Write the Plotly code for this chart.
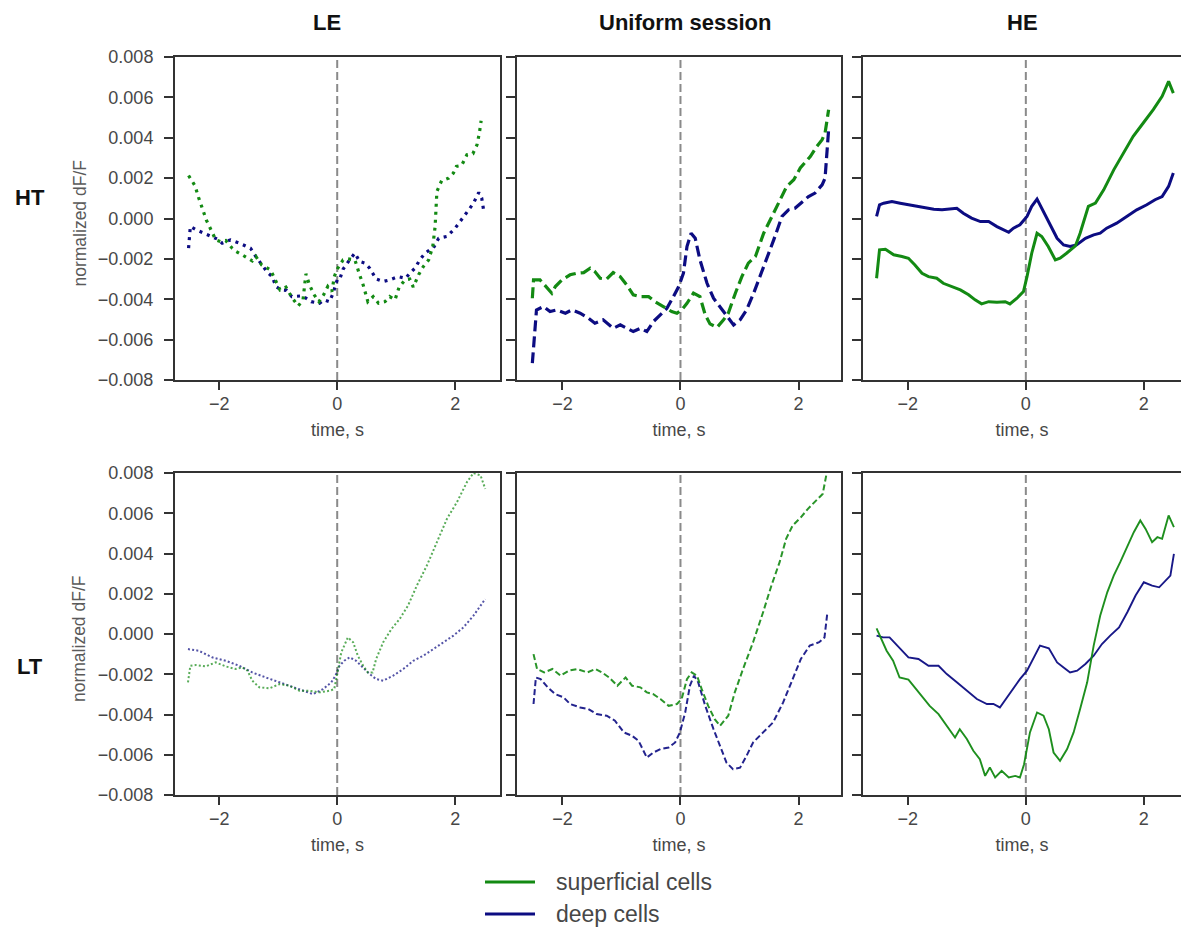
import plotly.graph_objects as go

# ---- data: (time in s, normalized dF/F) pairs per condition ----
# row HT, column LE (dotted)
LE_HT_SUP = [(-2.52, 0.00213), (-2.41, 0.00162), (-2.35, 0.00104), (-2.29, 0.00051), (-2.22, -0.00007),
             (-2.14, -0.00056), (-2.06, -0.00106), (-1.98, -0.00114), (-1.89, -0.00109), (-1.78, -0.00147),
             (-1.71, -0.00164), (-1.61, -0.00180), (-1.52, -0.00197), (-1.44, -0.00210), (-1.38, -0.00188),
             (-1.28, -0.00230), (-1.13, -0.00255), (-1.04, -0.00312), (-0.97, -0.00354), (-0.87, -0.00340),
             (-0.76, -0.00395), (-0.66, -0.00433), (-0.58, -0.00403), (-0.53, -0.00274), (-0.47, -0.00329),
             (-0.39, -0.00378), (-0.31, -0.00412), (-0.23, -0.00378), (-0.16, -0.00337), (-0.09, -0.00362),
             (-0.05, -0.00288), (0.01, -0.00246), (0.10, -0.00205), (0.18, -0.00200), (0.30, -0.00205),
             (0.38, -0.00279), (0.44, -0.00329), (0.52, -0.00412), (0.61, -0.00387), (0.70, -0.00420),
             (0.81, -0.00412), (0.89, -0.00387), (0.98, -0.00403), (1.05, -0.00340), (1.15, -0.00304),
             (1.23, -0.00300), (1.29, -0.00340), (1.38, -0.00279), (1.46, -0.00238), (1.55, -0.00205),
             (1.62, -0.00139), (1.66, -0.00040), (1.68, 0.00076), (1.69, 0.00134), (1.77, 0.00187),
             (1.89, 0.00200), (1.97, 0.00225), (2.02, 0.00258), (2.11, 0.00263), (2.20, 0.00316),
             (2.30, 0.00321), (2.37, 0.00365), (2.41, 0.00423), (2.44, 0.00484)]
LE_HT_DEEP = [(-2.52, -0.00147), (-2.51, -0.00093), (-2.49, -0.00040), (-2.39, -0.00056), (-2.26, -0.00073),
              (-2.12, -0.00089), (-2.03, -0.00102), (-1.95, -0.00122), (-1.81, -0.00106), (-1.66, -0.00122),
              (-1.55, -0.00136), (-1.47, -0.00147), (-1.38, -0.00188), (-1.27, -0.00230), (-1.18, -0.00268),
              (-1.10, -0.00288), (-1.04, -0.00337), (-0.95, -0.00354), (-0.86, -0.00356), (-0.77, -0.00387),
              (-0.67, -0.00383), (-0.59, -0.00383), (-0.44, -0.00412), (-0.30, -0.00420), (-0.22, -0.00403),
              (-0.13, -0.00412), (-0.07, -0.00370), (0.00, -0.00304), (0.04, -0.00304), (0.10, -0.00251),
              (0.21, -0.00205), (0.30, -0.00172), (0.38, -0.00213), (0.47, -0.00221), (0.55, -0.00246),
              (0.66, -0.00300), (0.78, -0.00312), (0.89, -0.00304), (1.03, -0.00288), (1.16, -0.00296),
              (1.23, -0.00271), (1.32, -0.00246), (1.40, -0.00205), (1.49, -0.00172), (1.57, -0.00155),
              (1.63, -0.00147), (1.72, -0.00098), (1.86, -0.00089), (2.00, -0.00048), (2.11, -0.00007),
              (2.23, 0.00043), (2.31, 0.00076), (2.40, 0.00129), (2.45, 0.00101), (2.48, 0.00046)]

# row HT, column Uniform session (dashed)
UNI_HT_SUP = [(-2.51, -0.00395), (-2.49, -0.00304), (-2.38, -0.00304), (-2.27, -0.00340), (-2.18, -0.00370),
              (-2.12, -0.00337), (-2.01, -0.00304), (-1.87, -0.00279), (-1.76, -0.00271), (-1.64, -0.00268),
              (-1.53, -0.00246), (-1.45, -0.00263), (-1.36, -0.00296), (-1.25, -0.00300), (-1.14, -0.00268),
              (-1.02, -0.00288), (-0.91, -0.00329), (-0.80, -0.00378), (-0.68, -0.00387), (-0.54, -0.00387),
              (-0.43, -0.00412), (-0.29, -0.00436), (-0.15, -0.00461), (-0.06, -0.00469), (0.02, -0.00453),
              (0.11, -0.00420), (0.22, -0.00370), (0.33, -0.00387), (0.42, -0.00478), (0.50, -0.00522),
              (0.62, -0.00539), (0.73, -0.00502), (0.81, -0.00469), (0.93, -0.00370), (1.04, -0.00288),
              (1.15, -0.00221), (1.27, -0.00188), (1.41, -0.00073), (1.55, 0.00010), (1.69, 0.00093),
              (1.80, 0.00159), (1.92, 0.00192), (2.03, 0.00250), (2.20, 0.00307), (2.31, 0.00357),
              (2.40, 0.00390), (2.45, 0.00423), (2.51, 0.00539)]
UNI_HT_DEEP = [(-2.51, -0.00717), (-2.46, -0.00502), (-2.44, -0.00453), (-2.32, -0.00436), (-2.21, -0.00461),
               (-2.10, -0.00453), (-1.95, -0.00469), (-1.84, -0.00453), (-1.70, -0.00469), (-1.56, -0.00494),
               (-1.45, -0.00519), (-1.31, -0.00502), (-1.14, -0.00544), (-1.02, -0.00527), (-0.91, -0.00544),
               (-0.80, -0.00560), (-0.68, -0.00544), (-0.57, -0.00560), (-0.46, -0.00511), (-0.34, -0.00478),
               (-0.23, -0.00445), (-0.12, -0.00387), (-0.03, -0.00337), (0.05, -0.00271), (0.11, -0.00139),
               (0.18, -0.00073), (0.25, -0.00098), (0.33, -0.00205), (0.45, -0.00321), (0.56, -0.00395),
               (0.67, -0.00436), (0.79, -0.00486), (0.90, -0.00527), (1.01, -0.00502), (1.12, -0.00453),
               (1.24, -0.00370), (1.35, -0.00288), (1.46, -0.00197), (1.58, -0.00106), (1.72, 0.00010),
               (1.83, 0.00043), (1.94, 0.00051), (2.06, 0.00084), (2.17, 0.00109), (2.28, 0.00126),
               (2.40, 0.00167), (2.45, 0.00200), (2.48, 0.00307), (2.51, 0.00440)]

# row HT, column HE (solid)
HE_HT_SUP = [(-2.53, -0.00296), (-2.48, -0.00155), (-2.38, -0.00152), (-2.24, -0.00180), (-2.10, -0.00188),
             (-1.99, -0.00197), (-1.88, -0.00230), (-1.76, -0.00271), (-1.65, -0.00288), (-1.51, -0.00296),
             (-1.40, -0.00321), (-1.25, -0.00337), (-1.11, -0.00354), (-0.97, -0.00378), (-0.86, -0.00403),
             (-0.75, -0.00423), (-0.63, -0.00412), (-0.49, -0.00415), (-0.35, -0.00412), (-0.27, -0.00423),
             (-0.15, -0.00395), (-0.04, -0.00362), (0.02, -0.00288), (0.10, -0.00172), (0.19, -0.00073),
             (0.27, -0.00089), (0.38, -0.00139), (0.50, -0.00205), (0.58, -0.00197), (0.69, -0.00172),
             (0.84, -0.00136), (0.92, -0.00073), (1.06, 0.00060), (1.18, 0.00076), (1.32, 0.00142),
             (1.49, 0.00241), (1.66, 0.00324), (1.82, 0.00407), (1.99, 0.00473), (2.16, 0.00539),
             (2.31, 0.00605), (2.42, 0.00679), (2.50, 0.00621)]
HE_HT_DEEP = [(-2.53, 0.00010), (-2.48, 0.00068), (-2.41, 0.00076), (-2.27, 0.00084), (-2.13, 0.00076),
              (-1.99, 0.00068), (-1.85, 0.00060), (-1.71, 0.00051), (-1.56, 0.00046), (-1.42, 0.00043),
              (-1.28, 0.00046), (-1.17, 0.00051), (-1.06, 0.00026), (-0.92, 0.00002), (-0.77, -0.00015),
              (-0.63, -0.00015), (-0.49, -0.00040), (-0.38, -0.00056), (-0.29, -0.00068), (-0.21, -0.00048),
              (-0.10, -0.00031), (0.02, 0.00010), (0.10, 0.00060), (0.19, 0.00096), (0.27, 0.00051),
              (0.38, -0.00015), (0.53, -0.00098), (0.64, -0.00131), (0.75, -0.00139), (0.86, -0.00131),
              (1.01, -0.00098), (1.15, -0.00081), (1.26, -0.00073), (1.37, -0.00048), (1.54, -0.00023),
              (1.71, 0.00010), (1.88, 0.00043), (2.05, 0.00068), (2.19, 0.00093), (2.31, 0.00109),
              (2.42, 0.00159), (2.50, 0.00225)]

# row LT, column LE (dotted)
LE_LT_SUP = [(-2.53, -0.00240), (-2.49, -0.00158), (-2.40, -0.00154), (-2.23, -0.00161), (-2.06, -0.00141),
             (-1.89, -0.00161), (-1.72, -0.00174), (-1.61, -0.00166), (-1.52, -0.00182), (-1.44, -0.00232),
             (-1.32, -0.00265), (-1.15, -0.00270), (-0.98, -0.00249), (-0.81, -0.00257), (-0.64, -0.00282),
             (-0.47, -0.00282), (-0.30, -0.00290), (-0.13, -0.00282), (-0.05, -0.00274), (0.00, -0.00191),
             (0.07, -0.00091), (0.18, -0.00017), (0.27, -0.00041), (0.35, -0.00108), (0.44, -0.00158),
             (0.52, -0.00191), (0.60, -0.00191), (0.66, -0.00124), (0.78, -0.00041), (0.92, 0.00025),
             (1.06, 0.00075), (1.20, 0.00141), (1.35, 0.00240), (1.52, 0.00340), (1.69, 0.00456),
             (1.86, 0.00572), (2.03, 0.00655), (2.20, 0.00755), (2.31, 0.00800), (2.43, 0.00788),
             (2.51, 0.00721)]
LE_LT_DEEP = [(-2.53, -0.00075), (-2.35, -0.00083), (-2.12, -0.00116), (-1.89, -0.00133), (-1.66, -0.00158),
              (-1.44, -0.00191), (-1.21, -0.00216), (-0.98, -0.00240), (-0.76, -0.00265), (-0.59, -0.00282),
              (-0.41, -0.00299), (-0.24, -0.00274), (-0.10, -0.00240), (-0.03, -0.00207), (0.04, -0.00158),
              (0.12, -0.00133), (0.21, -0.00116), (0.32, -0.00133), (0.44, -0.00166), (0.55, -0.00199),
              (0.66, -0.00224), (0.78, -0.00232), (0.95, -0.00207), (1.12, -0.00174), (1.29, -0.00133),
              (1.46, -0.00108), (1.63, -0.00075), (1.80, -0.00041), (1.97, -0.00008), (2.14, 0.00033),
              (2.31, 0.00091), (2.43, 0.00141), (2.51, 0.00174)]

# row LT, column Uniform session (dashed)
UNI_LT_SUP = [(-2.49, -0.00100), (-2.43, -0.00174), (-2.31, -0.00191), (-2.17, -0.00174), (-2.03, -0.00207),
              (-1.89, -0.00182), (-1.75, -0.00174), (-1.58, -0.00191), (-1.44, -0.00174), (-1.33, -0.00191),
              (-1.21, -0.00216), (-1.07, -0.00257), (-0.93, -0.00216), (-0.82, -0.00257), (-0.68, -0.00265),
              (-0.57, -0.00290), (-0.46, -0.00299), (-0.34, -0.00323), (-0.20, -0.00357), (-0.06, -0.00348),
              (0.02, -0.00323), (0.11, -0.00224), (0.19, -0.00191), (0.28, -0.00207), (0.36, -0.00274),
              (0.47, -0.00357), (0.58, -0.00423), (0.67, -0.00456), (0.81, -0.00406), (0.92, -0.00290),
              (1.06, -0.00174), (1.23, -0.00041), (1.40, 0.00108), (1.54, 0.00240), (1.68, 0.00357),
              (1.79, 0.00473), (1.90, 0.00539), (2.04, 0.00580), (2.16, 0.00622), (2.27, 0.00655),
              (2.41, 0.00696), (2.47, 0.00788), (2.49, 0.00820)]
UNI_LT_DEEP = [(-2.49, -0.00348), (-2.45, -0.00216), (-2.37, -0.00224), (-2.25, -0.00265), (-2.12, -0.00299),
               (-1.98, -0.00315), (-1.87, -0.00348), (-1.70, -0.00365), (-1.56, -0.00373), (-1.42, -0.00398),
               (-1.25, -0.00406), (-1.11, -0.00431), (-0.96, -0.00489), (-0.82, -0.00506), (-0.71, -0.00531),
               (-0.57, -0.00614), (-0.46, -0.00589), (-0.34, -0.00572), (-0.20, -0.00564), (-0.09, -0.00539),
               (-0.01, -0.00489), (0.08, -0.00390), (0.16, -0.00257), (0.23, -0.00207), (0.30, -0.00240),
               (0.42, -0.00357), (0.56, -0.00473), (0.67, -0.00556), (0.78, -0.00639), (0.89, -0.00672),
               (1.01, -0.00664), (1.12, -0.00605), (1.23, -0.00539), (1.40, -0.00489), (1.57, -0.00439),
               (1.74, -0.00340), (1.88, -0.00240), (2.04, -0.00124), (2.19, -0.00058), (2.35, -0.00041),
               (2.44, -0.00017), (2.47, 0.00058), (2.49, 0.00108)]

# row LT, column HE (solid)
HE_LT_SUP = [(-2.53, 0.00028), (-2.45, -0.00025), (-2.36, -0.00083), (-2.25, -0.00133), (-2.14, -0.00216),
             (-1.99, -0.00227), (-1.88, -0.00265), (-1.77, -0.00307), (-1.63, -0.00357), (-1.48, -0.00398),
             (-1.34, -0.00456), (-1.20, -0.00514), (-1.12, -0.00473), (-1.00, -0.00522), (-0.89, -0.00580),
             (-0.78, -0.00622), (-0.69, -0.00705), (-0.61, -0.00663), (-0.52, -0.00713), (-0.41, -0.00680),
             (-0.29, -0.00713), (-0.18, -0.00705), (-0.10, -0.00713), (-0.03, -0.00647), (0.07, -0.00489),
             (0.19, -0.00390), (0.30, -0.00406), (0.39, -0.00473), (0.47, -0.00589), (0.58, -0.00630),
             (0.70, -0.00572), (0.81, -0.00489), (0.92, -0.00373), (1.04, -0.00240), (1.15, -0.00058),
             (1.26, 0.00091), (1.38, 0.00207), (1.49, 0.00290), (1.60, 0.00357), (1.72, 0.00439),
             (1.83, 0.00506), (1.94, 0.00564), (2.03, 0.00522), (2.14, 0.00456), (2.23, 0.00481),
             (2.31, 0.00473), (2.42, 0.00589), (2.51, 0.00531)]
HE_LT_DEEP = [(-2.53, -0.00008), (-2.42, -0.00017), (-2.31, -0.00017), (-2.16, -0.00066), (-1.99, -0.00116),
              (-1.82, -0.00124), (-1.65, -0.00158), (-1.48, -0.00158), (-1.34, -0.00199), (-1.17, -0.00240),
              (-1.00, -0.00282), (-0.83, -0.00323), (-0.66, -0.00348), (-0.55, -0.00348), (-0.44, -0.00365),
              (-0.32, -0.00315), (-0.21, -0.00274), (-0.10, -0.00224), (0.02, -0.00182), (0.13, -0.00116),
              (0.24, -0.00058), (0.39, -0.00071), (0.53, -0.00141), (0.64, -0.00166), (0.75, -0.00191),
              (0.87, -0.00182), (1.01, -0.00149), (1.15, -0.00108), (1.29, -0.00050), (1.43, -0.00008),
              (1.58, 0.00033), (1.72, 0.00108), (1.86, 0.00191), (2.00, 0.00257), (2.14, 0.00240),
              (2.26, 0.00232), (2.37, 0.00265), (2.45, 0.00290), (2.51, 0.00398)]

COLUMN_TITLES = ["LE", "Uniform session", "HE"]
ROW_TITLES = ["HT", "LT"]
SERIES_NAMES = ["superficial cells", "deep cells"]
X_TICKS = [-2, 0, 2]
Y_TICKS = [0.008, 0.006, 0.004, 0.002, 0.0, -0.002, -0.004, -0.006, -0.008]
Y_TICK_TEXT = ["0.008", "0.006", "0.004", "0.002", "0.000",
               "\u22120.002", "\u22120.004", "\u22120.006", "\u22120.008"]

# ---- styling ----
W, H = 1181, 929
GREEN = "#138a13"
NAVY = "#0c0c82"
FRAME = "#333333"
TEXT = "#474747"
FONT = "Liberation Sans, Arial, Helvetica, sans-serif"

# pixel geometry of the panel grid
COL_PX = [(175, 500), (517, 841), (863, 1181)]
ROW_PX = [(57, 380), (473, 795)]
X_RANGES = [[-2.75, 2.76], [-2.77, 2.72], [-2.76, 2.63]]

# per-row, per-column line style (dash pattern, width, opacity)
STYLES = [
    [("3px,5px", 3.2, 1.0), ("11px,5px", 3.2, 1.0), ("solid", 3.0, 1.0)],
    [("2px,2.2px", 2.0, 0.7), ("6px,3px", 2.0, 0.9), ("solid", 1.9, 0.95)],
]
PANELS = [
    [(LE_HT_SUP, LE_HT_DEEP), (UNI_HT_SUP, UNI_HT_DEEP), (HE_HT_SUP, HE_HT_DEEP)],
    [(LE_LT_SUP, LE_LT_DEEP), (UNI_LT_SUP, UNI_LT_DEEP), (HE_LT_SUP, HE_LT_DEEP)],
]


def px_x(p):
    return p / W


def px_y(p):
    return 1 - p / H


fig = go.Figure()
layout = {}
annotations = []
shapes = []

for r in range(2):
    for c in range(3):
        k = r * 3 + c + 1
        sfx = "" if k == 1 else str(k)
        xa, ya = "x" + sfx, "y" + sfx
        dash, width, alpha = STYLES[r][c]
        sup, deep = PANELS[r][c]
        for series, color, name in ((deep, NAVY, SERIES_NAMES[1]), (sup, GREEN, SERIES_NAMES[0])):
            fig.add_trace(go.Scatter(
                x=[p[0] for p in series], y=[p[1] for p in series],
                mode="lines", name=name, showlegend=False, opacity=alpha,
                line=dict(color=color, width=width, dash=dash),
                xaxis=xa, yaxis=ya, hoverinfo="skip"))

        x0, x1 = COL_PX[c]
        y0, y1 = ROW_PX[r]
        layout["xaxis" + sfx] = dict(
            domain=[px_x(x0), px_x(x1)], range=X_RANGES[c], anchor=ya,
            automargin=False,
            tickmode="array", tickvals=X_TICKS,
            ticks="outside", ticklen=8, tickwidth=2, tickcolor=FRAME,
            ticklabelstandoff=-2,
            showline=True, linecolor=FRAME, linewidth=2, mirror=True,
            showgrid=False, zeroline=False,
            tickfont=dict(size=18, color=TEXT, family=FONT),
            title=dict(text="time, s", standoff=11, font=dict(size=18, color=TEXT, family=FONT)),
        )
        layout["yaxis" + sfx] = dict(
            domain=[px_y(y1), px_y(y0)], range=[-0.008, 0.008], anchor=xa,
            automargin=False,
            tickmode="array", tickvals=Y_TICKS, ticktext=Y_TICK_TEXT,
            showticklabels=(c == 0),
            ticks="outside", ticklen=9, tickwidth=2, tickcolor=FRAME,
            ticklabelstandoff=7,
            showline=True, linecolor=FRAME, linewidth=2, mirror=(c < 2),
            showgrid=False, zeroline=False,
            tickfont=dict(size=18, color=TEXT, family=FONT),
        )
        # stimulus onset marker
        shapes.append(dict(
            type="line", xref=xa, yref=ya + " domain", x0=0, x1=0, y0=0, y1=1,
            layer="below", line=dict(color="#8a8a8a", width=2, dash="8px,4px")))

        if c == 0:
            annotations.append(dict(
                text="normalized dF/F", textangle=-90, xref="paper", yref="paper",
                x=px_x(79), y=px_y((y0 + y1) / 2 + 5), showarrow=False,
                xanchor="center", yanchor="middle",
                font=dict(size=17.5, color="#5a5a5a", family=FONT)))

# column and row headings
for title, cx in zip(COLUMN_TITLES, [327, 685, 1022]):
    annotations.append(dict(text="<b>%s</b>" % title, xref="paper", yref="paper",
                            x=px_x(cx), y=px_y(22), showarrow=False,
                            xanchor="center", yanchor="middle",
                            font=dict(size=22, color="#111111", family=FONT)))
for title, cy in zip(ROW_TITLES, [197, 666]):
    annotations.append(dict(text="<b>%s</b>" % title, xref="paper", yref="paper",
                            x=px_x(30), y=px_y(cy), showarrow=False,
                            xanchor="center", yanchor="middle",
                            font=dict(size=22, color="#111111", family=FONT)))

# legend keys
for name, color, cy in ((SERIES_NAMES[0], GREEN, 882), (SERIES_NAMES[1], NAVY, 914)):
    shapes.append(dict(type="line", xref="paper", yref="paper",
                       x0=px_x(485), x1=px_x(535), y0=px_y(cy), y1=px_y(cy),
                       line=dict(color=color, width=3)))
    annotations.append(dict(text=name, xref="paper", yref="paper",
                            x=px_x(554), y=px_y(cy), showarrow=False,
                            xanchor="left", yanchor="middle",
                            font=dict(size=23, color=TEXT, family=FONT)))

fig.update_layout(
    width=W, height=H, margin=dict(l=0, r=0, t=0, b=0, autoexpand=False),
    paper_bgcolor="white", plot_bgcolor="white",
    showlegend=False, annotations=annotations, shapes=shapes,
    font=dict(family=FONT),
    **layout)

fig.write_html("out.html")
